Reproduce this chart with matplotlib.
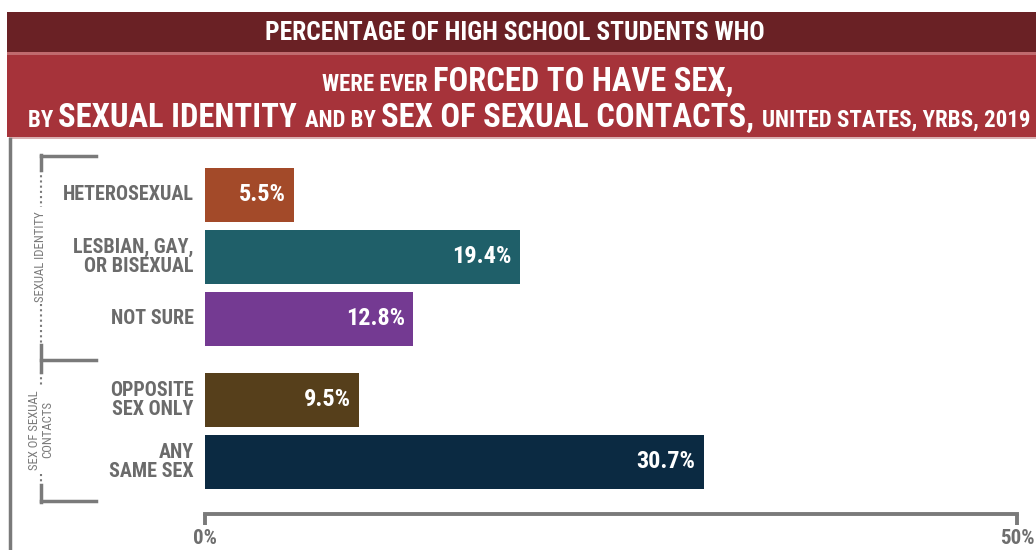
import matplotlib
matplotlib.use("Agg")
import matplotlib.pyplot as plt
from matplotlib import font_manager as fm
from matplotlib.patches import Rectangle
from matplotlib.lines import Line2D

# ---- data ----
categories = ["HETEROSEXUAL", "LESBIAN, GAY,\nOR BISEXUAL", "NOT SURE",
              "OPPOSITE\nSEX ONLY", "ANY\nSAME SEX"]
values = [5.5, 19.4, 12.8, 9.5, 30.7]
groups = [0, 0, 0, 1, 1]
group_labels = ["SEXUAL IDENTITY", "SEX OF SEXUAL\nCONTACTS"]
bar_colors = ["#a34a29", "#1f5f69", "#743a92", "#563f1b", "#0b2a42"]
xticks = [0, 50]
xtick_labels = ["0%", "50%"]

names = {f.name for f in fm.fontManager.ttflist}
FONT = [n for n in ["Roboto Condensed", "Liberation Sans Narrow", "Liberation Sans"] if n in names][:1] + ["DejaVu Sans"]
plt.rcParams["font.family"] = FONT

W, H = 1036, 550
fig = plt.figure(figsize=(W / 100, H / 100), dpi=100)

def fx(px):
    return px / W

def fy(py):
    return 1 - py / H

# ---- header bands ----
fig.patches.append(Rectangle((fx(7), fy(52)), fx(1036 - 7), 40 / H, transform=fig.transFigure,
                             facecolor="#6a2125", edgecolor="none"))
fig.patches.append(Rectangle((fx(7), fy(55)), fx(1036 - 7), 3 / H, transform=fig.transFigure,
                             facecolor="#c06a6e", edgecolor="none"))
fig.patches.append(Rectangle((fx(7), fy(137)), fx(1036 - 7), 82 / H, transform=fig.transFigure,
                             facecolor="#a6333a", edgecolor="none"))
fig.patches.append(Rectangle((fx(9), fy(139)), fx(1036 - 9), 2 / H, transform=fig.transFigure,
                             facecolor="#d9b0b2", edgecolor="none"))

fig.text(fx(515), fy(33), "PERCENTAGE OF HIGH SCHOOL STUDENTS WHO", color="white",
         fontsize=18.4, fontweight="bold", ha="center", va="center")

renderer = fig.canvas.get_renderer()

def mixed_line(parts, center_px, baseline_py):
    objs = []
    for txt, size in parts:
        t = fig.text(0, fy(baseline_py), txt, color="white", fontsize=size,
                     fontweight="bold", ha="left", va="baseline")
        objs.append(t)
    widths = [t.get_window_extent(renderer).width for t in objs]
    total = sum(widths)
    x = center_px - total / 2
    for t, w in zip(objs, widths):
        t.set_x(fx(x))
        x += w

small, big = 16.5, 23.5
mixed_line([("WERE EVER ", small), ("FORCED TO HAVE SEX,", big)], 528, 91)
mixed_line([("BY ", small), ("SEXUAL IDENTITY ", big), ("AND BY ", small),
            ("SEX OF SEXUAL CONTACTS, ", big), ("UNITED STATES, YRBS, 2019", small)], 529, 127)

# ---- outer left border ----
fig.add_artist(Line2D([fx(10), fx(10)], [fy(139), fy(550)], transform=fig.transFigure,
                      color="#7a7a7a", lw=2.5))

# ---- main axes ----
step = 62.0
top_px, bottom_px = 150, 514
first_center = 195
ax = fig.add_axes([fx(205), fy(bottom_px), fx(1017) - fx(205), (bottom_px - top_px) / H])
ypos = [i + 0.3 * g for i, g in enumerate(groups)]
ax.barh(ypos, values, height=0.87, color=bar_colors, edgecolor="none")
ax.set_xlim(0, 50)
ax.set_ylim((bottom_px - first_center) / step, (top_px - first_center) / step)
for s in ["top", "right", "left"]:
    ax.spines[s].set_visible(False)
ax.spines["bottom"].set_color("#7a7a7a")
ax.spines["bottom"].set_linewidth(2.8)
ax.spines["bottom"].set_capstyle("projecting")
ax.set_yticks([])
ax.set_xticks(xticks)
ax.set_xticklabels(xtick_labels, fontsize=15, fontweight="bold", color="#6e6e6e")
ax.tick_params(axis="x", length=8, width=2.8, color="#7a7a7a", pad=3, direction="out")
ax.patch.set_alpha(0)

for y, v, lab in zip(ypos, values, categories):
    ax.text(v - 0.5, y, f"{v}%", color="white", fontsize=17.5, fontweight="bold",
            ha="right", va="center")
    ax.text(-0.7, y, lab, color="#6b6b6b", fontsize=14.5, fontweight="bold",
            ha="right", va="center", linespacing=1.0)

# ---- left group brackets ----
bc = "#7a7a7a"
bx = 41
def hline(py):
    fig.add_artist(Line2D([fx(bx), fx(96)], [fy(py), fy(py)], transform=fig.transFigure, color=bc, lw=2.5))
def vseg(p0, p1, dotted=False):
    fig.add_artist(Line2D([fx(bx), fx(bx)], [fy(p0), fy(p1)], transform=fig.transFigure, color=bc,
                          lw=1.5 if dotted else 2.5, linestyle=(0, (1, 1.5)) if dotted else "-"))

hline(156); hline(360); hline(501)
vseg(155, 170); vseg(170, 207, True); vseg(304, 345, True); vseg(345, 372)
vseg(372, 386, True); vseg(474, 485, True); vseg(485, 502)
fig.text(fx(bx), fy(257), group_labels[0], rotation=90, color=bc, fontsize=9.2,
         ha="center", va="center")
fig.text(fx(bx), fy(430), group_labels[1], rotation=90, color=bc, fontsize=9.2,
         ha="center", va="center", linespacing=0.95, multialignment="center")

fig.savefig("out.png", dpi=100)
